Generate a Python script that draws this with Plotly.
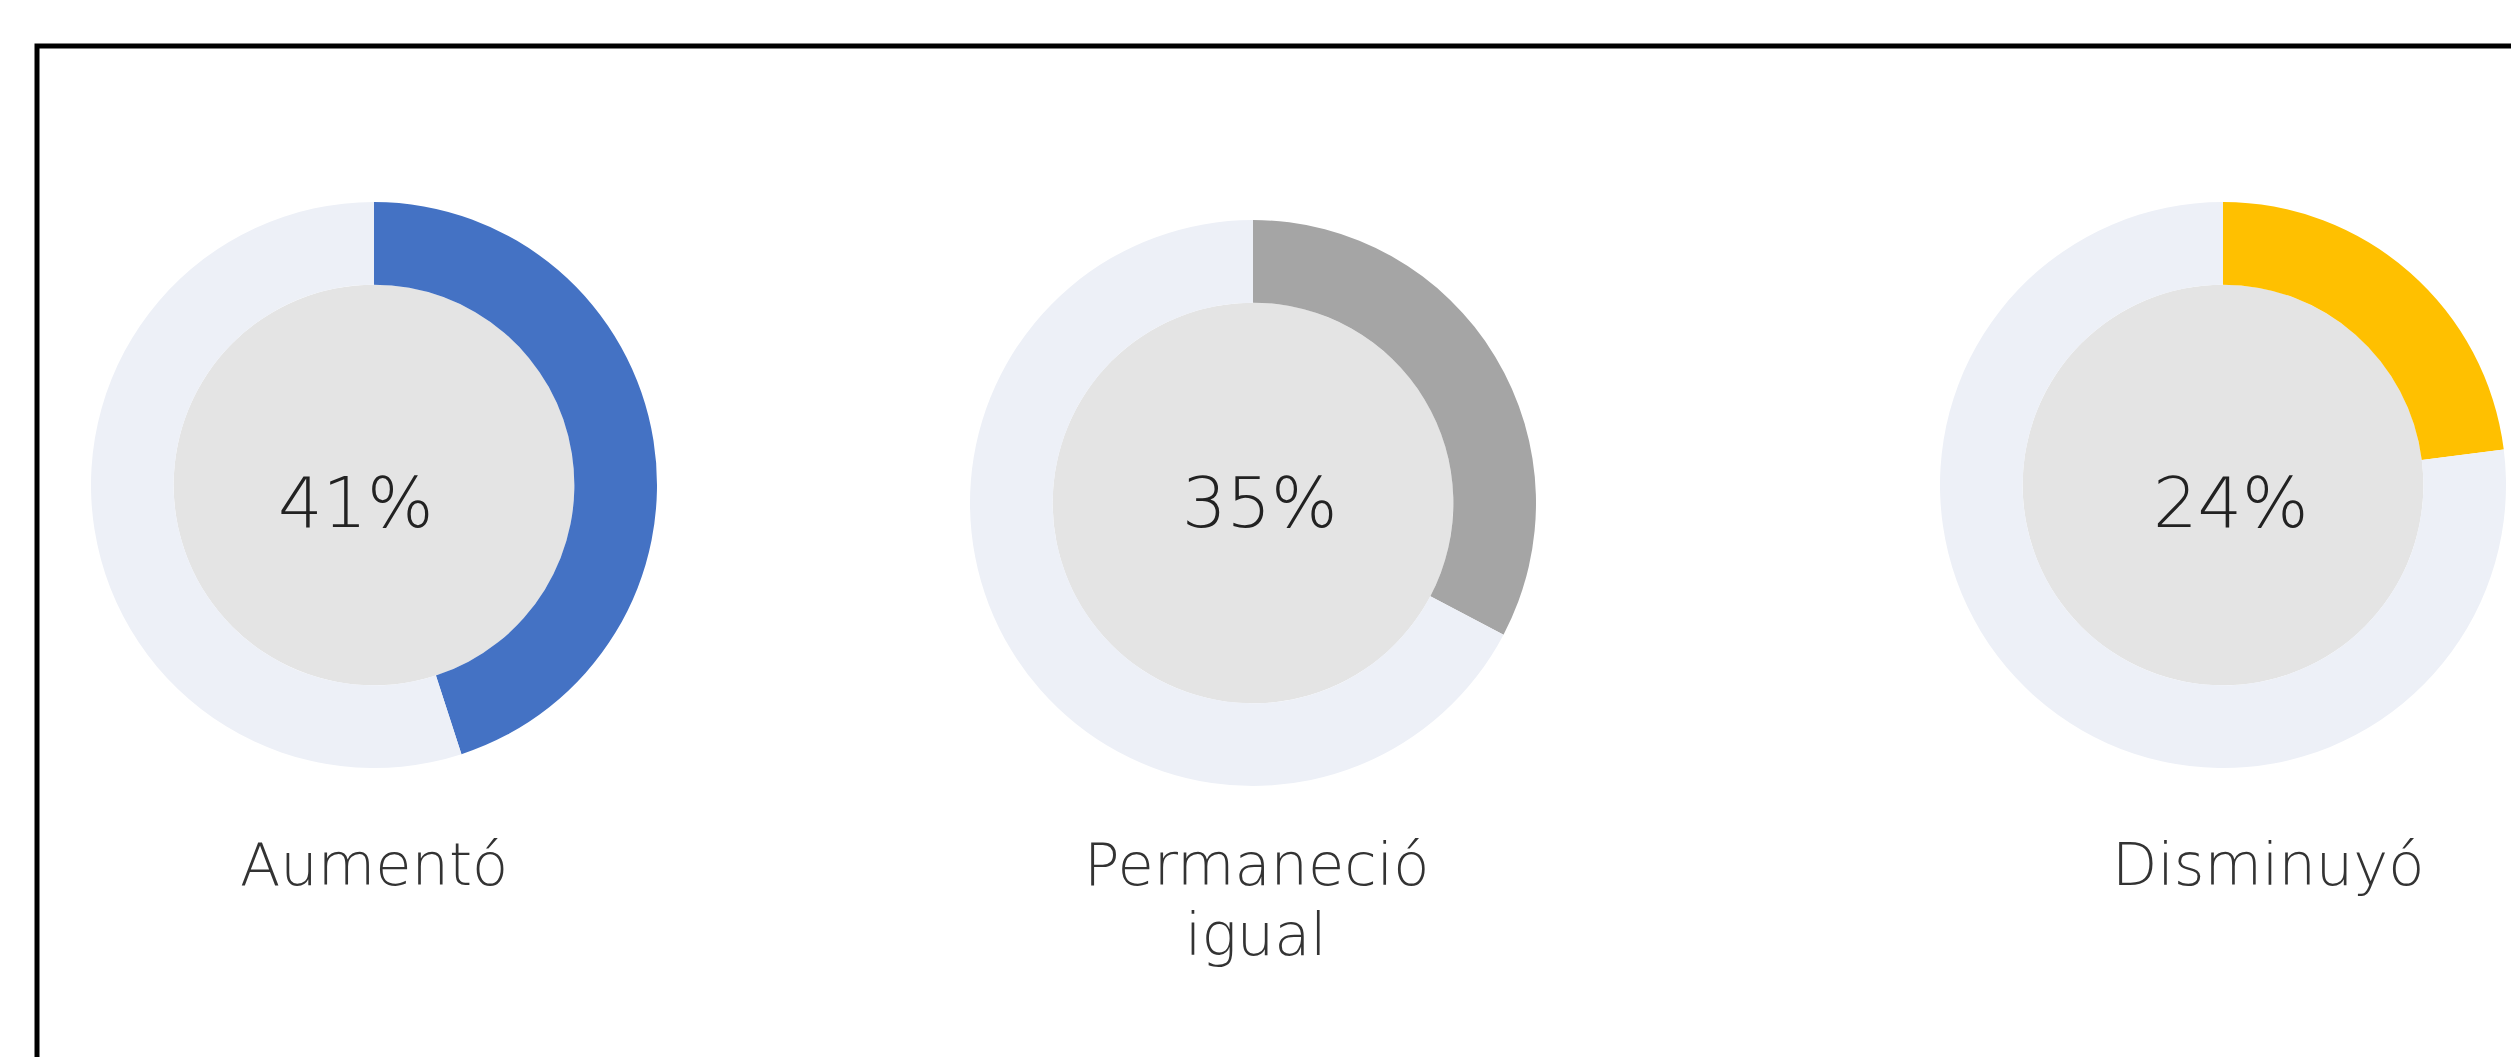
import plotly.graph_objects as go

# ---- data ----
categories = ["Aumentó", "Permaneció<br>igual", "Disminuyó"]
pct_labels = ["41%", "35%", "24%"]
arc_share = [45.0, 32.7, 23.0]          # share of the ring drawn in colour (as seen)
colors = ["#4472C4", "#A5A5A5", "#FFC000"]

# ---- layout constants (pixels) ----
W, H = 2519, 1057
centers_x = [366, 1245, 2215]
centers_y = [477, 495, 477]
R = 283
HOLE = 0.708
RING_BG = "#EDF0F7"
INNER_BG = "#E4E4E4"
FONT = "DejaVu Sans"

pct_x = [348, 1252, 2223]
pct_top = 452
pct_size = 70
label_x = [366, 1248, 2260]
label_top = 820
label_size = 59
line_gap = 70

fig = go.Figure()
shapes = []
annotations = []

for i, (share, col) in enumerate(zip(arc_share, colors)):
    cx, cy = centers_x[i], centers_y[i]
    fig.add_trace(go.Pie(
        values=[share, 100 - share],
        marker=dict(colors=[col, RING_BG], line=dict(width=0)),
        hole=HOLE,
        sort=False,
        direction="clockwise",
        rotation=0,
        textinfo="none",
        hoverinfo="skip",
        showlegend=False,
        domain=dict(x=[(cx - R) / W, (cx + R) / W],
                    y=[1 - (cy + R) / H, 1 - (cy - R) / H]),
    ))
    ri = R * HOLE
    shapes.append(dict(type="circle", xref="paper", yref="paper",
                       x0=(cx - ri) / W, x1=(cx + ri) / W,
                       y0=1 - (cy + ri) / H, y1=1 - (cy - ri) / H,
                       fillcolor=INNER_BG, line=dict(width=0), layer="below"))
    annotations.append(dict(text=pct_labels[i], x=pct_x[i] / W, y=1 - pct_top / H,
                            xref="paper", yref="paper", xanchor="center", yanchor="top",
                            showarrow=False,
                            font=dict(family=FONT, size=pct_size, color="#222222", weight=300)))
    for k, line in enumerate(categories[i].split("<br>")):
        annotations.append(dict(text=line, x=label_x[i] / W, y=1 - (label_top + k * line_gap) / H,
                                xref="paper", yref="paper", xanchor="center", yanchor="top",
                                showarrow=False, align="center",
                                font=dict(family=FONT, size=label_size, color="#333333", weight=300)))

# frame (open at right / bottom as in the reference)
shapes.append(dict(type="rect", xref="paper", yref="paper",
                   x0=29 / W, x1=1.005, y0=-0.005, y1=1 - 38 / H,
                   line=dict(color="black", width=5), fillcolor="rgba(0,0,0,0)", layer="above"))

fig.update_layout(
    width=W, height=H,
    margin=dict(l=0, r=0, t=0, b=0),
    paper_bgcolor="white", plot_bgcolor="white",
    shapes=shapes, annotations=annotations,
    showlegend=False,
)

fig.write_html("out.html")
